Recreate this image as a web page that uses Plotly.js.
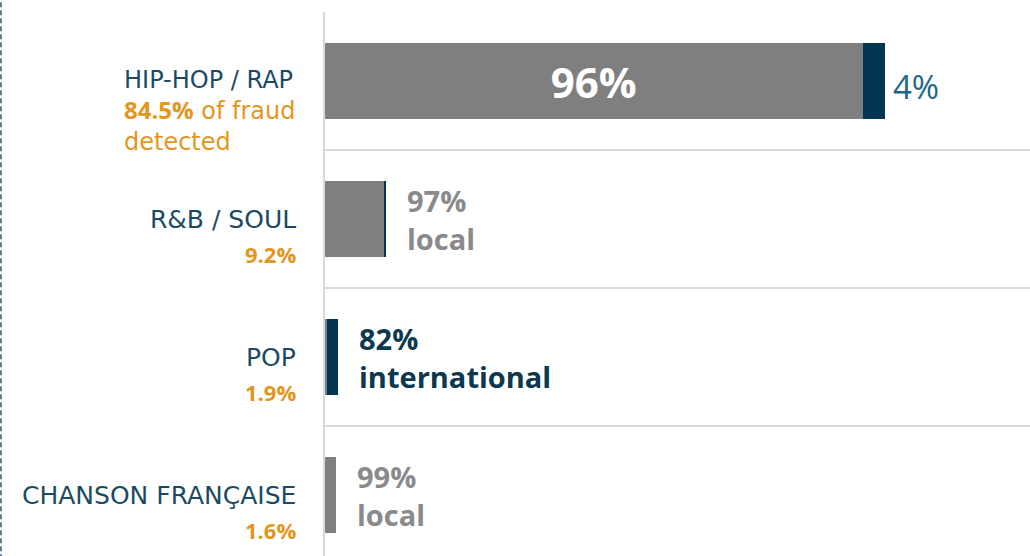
<!DOCTYPE html>
<html>
<head>
<meta charset="utf-8">
<script src="https://cdn.plot.ly/plotly-3.0.1.min.js"></script>
<style>html,body{margin:0;padding:0;background:#fff;}#chart{width:1030px;height:556px;}</style>
</head>
<body>
<div id="chart"></div>
<script>
// ---- data ----
const categories = ['HIP-HOP / RAP', 'R&B / SOUL', 'POP', 'CHANSON FRANÇAISE'];
const fraudShare = [84.5, 9.2, 1.9, 1.6];      // % of fraud detected
const localPct   = [96, 97, 18, 99];           // % local within genre
const intlPct    = [4, 3, 82, 1];              // % international within genre
const callout    = ['split', 'local', 'intl', 'local']; // which share is called out

// ---- styles ----
const GRAY = '#7f7f7f', NAVY = '#023650';
const NAME_C = '#1b4b63', ORANGE = '#e3961c', GRAY_T = '#8a8a8a', NAVY_T = '#0c3850', TEAL_T = '#20678a';
const NAME_FONT = 'DejaVu Sans', NUM_FONT = 'Open Sans';

const localX = fraudShare.map((f, i) => f * localPct[i] / 100);
const intlX  = fraudShare.map((f, i) => f * intlPct[i] / 100);

const traces = [
  {
    type: 'bar', orientation: 'h', name: 'local',
    y: categories, x: localX, width: 0.55,
    marker: {color: GRAY, line: {width: 0}},
    text: categories.map((c, i) => callout[i] === 'split' ? '<b>' + localPct[i] + '%</b>' : ''),
    textposition: 'inside', insidetextanchor: 'middle', textangle: 0,
    constraintext: 'none',
    insidetextfont: {family: NUM_FONT, size: 42, color: '#ffffff'},
    hoverinfo: 'skip'
  },
  {
    type: 'bar', orientation: 'h', name: 'international',
    y: categories, x: intlX, width: 0.55,
    marker: {color: NAVY, line: {width: 0}},
    hoverinfo: 'skip'
  }
];

const annotations = [];
categories.forEach((c, i) => {
  if (i === 0) {
    annotations.push({
      xref: 'paper', x: 0, xanchor: 'right', xshift: -27,
      yref: 'y', y: c, yanchor: 'middle', yshift: -30,
      align: 'left', showarrow: false,
      font: {family: NAME_FONT, size: 24, color: NAME_C},
      text: c + '<br><span style="color:' + ORANGE + '"><b style="font-family:' + NUM_FONT + '">' +
            fraudShare[i] + '%</b> of fraud<br>detected</span>'
    });
  } else {
    annotations.push({
      xref: 'paper', x: 0, xanchor: 'right', xshift: -27,
      yref: 'y', y: c, yanchor: 'middle', yshift: 0,
      align: 'right', showarrow: false,
      font: {family: NAME_FONT, size: 25, color: NAME_C}, text: c
    });
    annotations.push({
      xref: 'paper', x: 0, xanchor: 'right', xshift: -27,
      yref: 'y', y: c, yanchor: 'middle', yshift: -35,
      align: 'right', showarrow: false,
      font: {family: NUM_FONT, size: 22, color: ORANGE}, text: '<b>' + fraudShare[i] + '%</b>'
    });
  }
  // value callout at the end of the bar
  if (callout[i] === 'split') {
    annotations.push({
      xref: 'x', x: fraudShare[i], xanchor: 'left', xshift: 6,
      yref: 'y', y: c, yanchor: 'middle', yshift: -5,
      showarrow: false, align: 'left',
      font: {family: NUM_FONT, size: 33, color: TEAL_T}, text: intlPct[i] + '%'
    });
  } else {
    const isLocal = callout[i] === 'local';
    annotations.push({
      xref: 'x', x: fraudShare[i], xanchor: 'left', xshift: 19,
      yref: 'y', y: c, yanchor: 'middle', yshift: 0,
      showarrow: false, align: 'left',
      font: {family: NUM_FONT, size: 29, color: isLocal ? GRAY_T : NAVY_T},
      text: '<b>' + (isLocal ? localPct[i] : intlPct[i]) + '%<br>' + (isLocal ? 'local' : 'international') + '</b>'
    });
  }
});

const layout = {
  width: 1030, height: 556,
  margin: {l: 325, r: 0, t: 12, b: 0, pad: 0},
  paper_bgcolor: '#ffffff', plot_bgcolor: '#ffffff',
  barmode: 'stack', showlegend: false,
  xaxis: {range: [0, 106.4], showgrid: false, zeroline: false, showticklabels: false, ticks: '', fixedrange: true},
  yaxis: {
    type: 'category', categoryorder: 'array', categoryarray: categories,
    range: [3.442, -0.5], tickson: 'boundaries',
    showgrid: true, gridcolor: '#d9d9d9', gridwidth: 1.5,
    showline: true, linecolor: '#d9d9d9', linewidth: 2,
    showticklabels: false, ticks: '', zeroline: false, fixedrange: true
  },
  shapes: [{
    type: 'line', xref: 'paper', xsizemode: 'pixel', xanchor: 0, x0: -324, x1: -324,
    yref: 'paper', y0: -0.05, y1: 1.05,
    line: {color: '#1d5a6e', width: 1.5, dash: '5px,3px'}
  }],
  annotations: annotations
};

Plotly.newPlot('chart', traces, layout, {displayModeBar: false, staticPlot: true});
</script>
</body>
</html>
